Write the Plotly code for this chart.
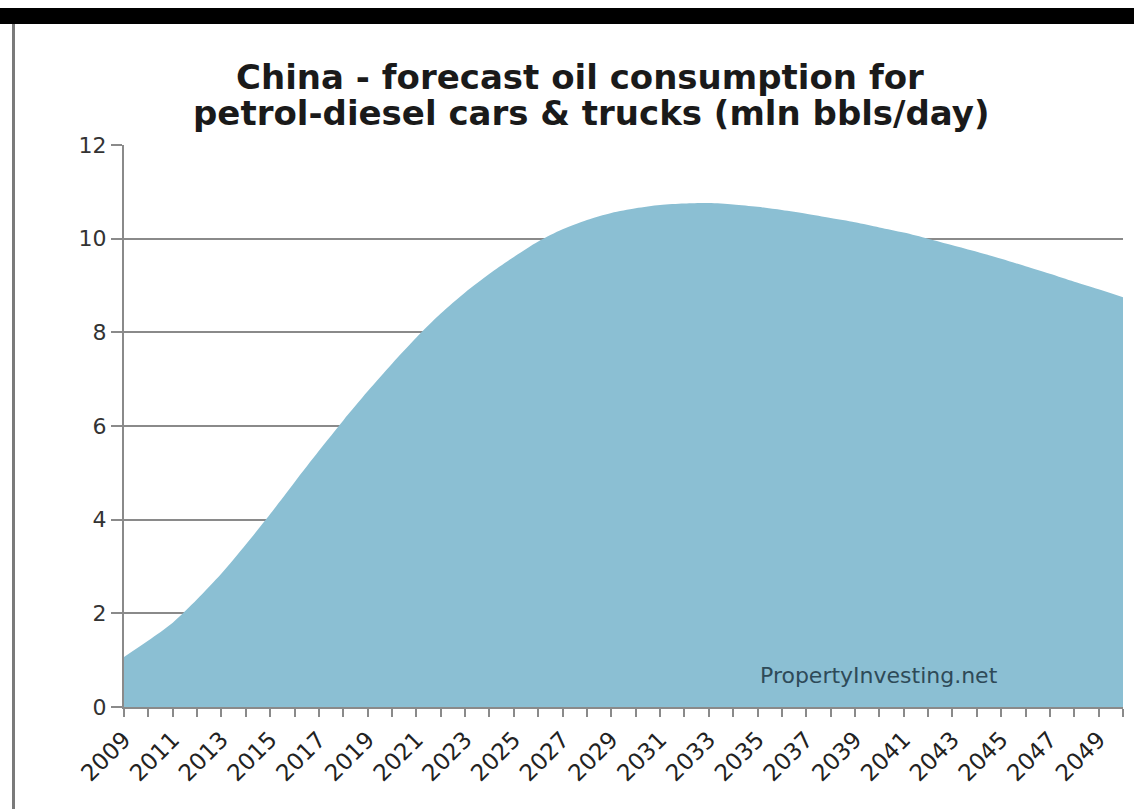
import plotly.graph_objects as go

years = list(range(2009, 2051))
consumption = [1.07, 1.42, 1.80, 2.30, 2.85, 3.47, 4.12, 4.80, 5.47, 6.12,
               6.74, 7.33, 7.89, 8.40, 8.85, 9.25, 9.61, 9.94, 10.20, 10.40,
               10.55, 10.65, 10.72, 10.75, 10.76, 10.73, 10.68, 10.61, 10.53, 10.44,
               10.35, 10.24, 10.13, 10.00, 9.86, 9.72, 9.57, 9.41, 9.25, 9.08,
               8.92, 8.75]
tick_labels = [str(y) if (y - 2009) % 2 == 0 else "" for y in years]
y_ticks = [0, 2, 4, 6, 8, 10, 12]

title_line1 = "China - forecast oil consumption for"
title_line2 = "petrol-diesel cars & trucks (mln bbls/day)"
watermark = "PropertyInvesting.net"

W, H = 1134, 809
L, R, T, B = 124, 11, 145, 102
pw, ph = W - L - R, H - T - B

def px(x):
    return (x - L) / pw

def py(y):
    return (H - B - y) / ph

fill_col = "rgb(139,191,211)"
fig = go.Figure()
fig.add_trace(go.Scatter(
    x=years, y=consumption, mode="lines", fill="tozeroy",
    line=dict(width=0, color=fill_col, shape="spline", smoothing=0.8),
    fillcolor=fill_col, hoverinfo="x+y", showlegend=False,
))

grey = "#8a8a8a"
fig.update_layout(
    width=W, height=H,
    margin=dict(l=L, r=R, t=T, b=B, pad=0),
    paper_bgcolor="white", plot_bgcolor="white",
    font=dict(family="DejaVu Sans, Verdana, sans-serif", color="#333333"),
    xaxis=dict(
        range=[2009, 2050], tickmode="array", tickvals=years, ticktext=tick_labels,
        tickangle=-45, ticks="outside", ticklen=8, tickwidth=2, tickcolor=grey,
        showline=True, linecolor=grey, linewidth=2, showgrid=False, zeroline=False,
        tickfont=dict(size=23, color="#222222"),
    ),
    yaxis=dict(
        range=[0, 12], tickvals=y_ticks, ticks="outside", ticklen=11, tickwidth=2,
        tickcolor=grey, showline=True, linecolor=grey, linewidth=2,
        showgrid=True, gridcolor=grey, gridwidth=2, zeroline=False,
        tickfont=dict(size=22, color="#333333"),
    ),
    shapes=[
        dict(type="rect", xref="paper", yref="paper",
             x0=px(0), x1=px(W), y0=py(24), y1=py(8),
             fillcolor="black", line=dict(width=0), layer="above"),
        dict(type="rect", xref="paper", yref="paper",
             x0=px(12), x1=px(15), y0=py(H), y1=py(24),
             fillcolor="#7a7a7a", line=dict(width=0), layer="above"),
    ],
    annotations=[
        dict(text=f"<b>{title_line1}</b>", xref="paper", yref="paper",
             x=px(580), y=py(77), showarrow=False, xanchor="center", yanchor="middle",
             font=dict(size=34, color="#1a1a1a")),
        dict(text=f"<b>{title_line2}</b>", xref="paper", yref="paper",
             x=px(591), y=py(113), showarrow=False, xanchor="center", yanchor="middle",
             font=dict(size=34, color="#1a1a1a")),
        dict(text=watermark, xref="paper", yref="paper",
             x=px(879), y=py(675), showarrow=False, xanchor="center", yanchor="middle",
             font=dict(size=22, color="#2e4a58")),
    ],
)

fig.write_html("out.html")
